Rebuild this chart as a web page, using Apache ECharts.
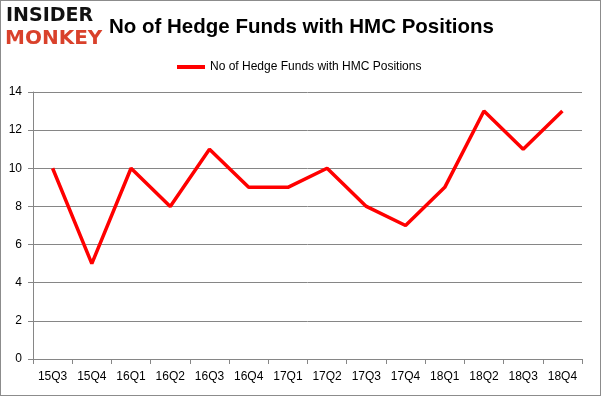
<!DOCTYPE html>
<html><head><meta charset="utf-8">
<script src="https://cdn.jsdelivr.net/npm/echarts@6/dist/echarts.min.js"></script>
<style>html,body{margin:0;padding:0;background:#fff}#c{width:601px;height:396px;box-sizing:border-box;border:1px solid #8c8c8c}</style>
</head><body><div id="c"></div>
<script>
var categories = ['15Q3','15Q4','16Q1','16Q2','16Q3','16Q4','17Q1','17Q2','17Q3','17Q4','18Q1','18Q2','18Q3','18Q4'];
var hedgeFunds = [10,5,10,8,11,9,9,10,8,7,9,13,11,13];
var seriesName = 'No of Hedge Funds with HMC Positions';
var chart = echarts.init(document.getElementById('c'));
chart.setOption({
  animation:false,
  title:{text:'No of Hedge Funds with HMC Positions',left:103,top:11,textStyle:{fontFamily:'Liberation Sans',fontSize:20.5,fontWeight:'bold',color:'#000'}},
  legend:{top:55,left:171,itemWidth:28,itemHeight:4,itemGap:5,icon:'rect',textStyle:{fontFamily:'Liberation Sans',fontSize:12,color:'#000'},data:[seriesName]},
  graphic:[
    {type:'text',left:5,top:6,style:{text:'INSIDER',fontFamily:'DejaVu Sans',fontWeight:'bold',fontSize:19,fill:'#111'}},
    {type:'text',left:4,top:28,style:{text:'MONKEY',fontFamily:'DejaVu Sans',fontWeight:'bold',fontSize:20,fill:'#d9412b'}}
  ],
  grid:{left:32,right:18,top:91,bottom:36,containLabel:false},
  xAxis:{type:'category',data:categories,boundaryGap:true,
    axisLine:{lineStyle:{color:'#868686'}},axisTick:{show:true,lineStyle:{color:'#868686'},length:5},
    axisLabel:{fontFamily:'Liberation Sans',fontSize:12,color:'#000',margin:12}},
  yAxis:{type:'value',min:0,max:14,interval:2,
    axisLine:{show:true,lineStyle:{color:'#868686'}},axisTick:{show:true,lineStyle:{color:'#868686'},length:5},
    splitLine:{lineStyle:{color:'#868686'}},
    axisLabel:{fontFamily:'Liberation Sans',fontSize:12,color:'#000',margin:11}},
  series:[{name:seriesName,type:'line',data:hedgeFunds,symbol:'none',lineStyle:{color:'#ff0000',width:3.5},itemStyle:{color:'#ff0000'}}]
});
</script></body></html>
